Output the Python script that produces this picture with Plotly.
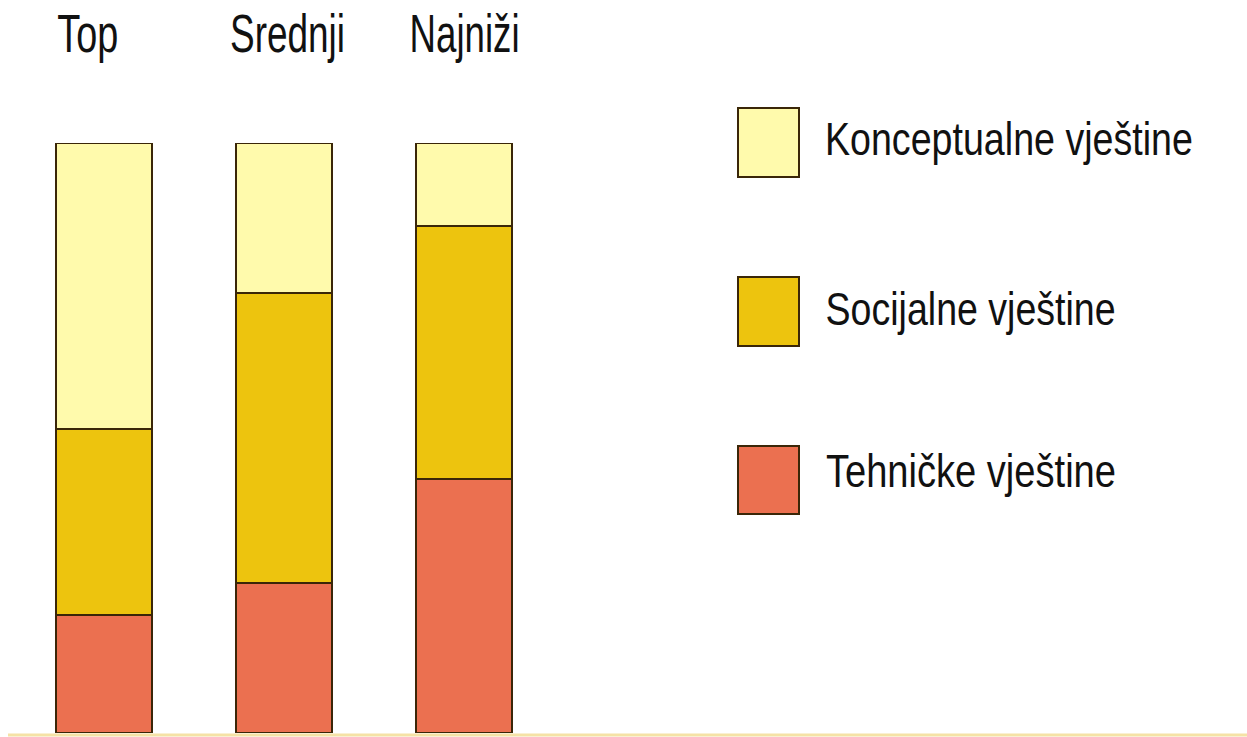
import json
import plotly.graph_objects as go

categories = ["Top", "Srednji", "Najniži"]
series_names = ["Tehničke vještine", "Socijalne vještine", "Konceptualne vještine"]
tehnicke = [20.0, 25.5, 43.0]
socijalne = [31.5, 49.0, 43.0]
konceptualne = [48.5, 25.5, 14.0]
series_values = [tehnicke, socijalne, konceptualne]
colors = ["#EB7050", "#EDC40E", "#FFFAAC"]

W, H = 1247, 737
FONT = "Liberation Sans, Arial, Helvetica, sans-serif"
EDGE = "#3a2608"

fig = go.Figure()
for name, vals, col in zip(series_names, series_values, colors):
    fig.add_trace(go.Bar(
        x=categories, y=vals, name=name,
        marker=dict(color=col, line=dict(color=EDGE, width=2)),
        width=0.533, showlegend=False, hoverinfo="skip"))


def py(p):
    return (H - p) / H


def px(p):
    return p / W


spacing = 180.0
x0 = 104.0
fig.update_layout(
    width=W, height=H, barmode="stack",
    margin=dict(l=0, r=0, t=0, b=0),
    paper_bgcolor="white", plot_bgcolor="white",
    xaxis=dict(domain=[0, 1], range=[-x0 / spacing, (W - x0) / spacing],
               showticklabels=False, showgrid=False, zeroline=False, showline=False),
    yaxis=dict(domain=[py(733), py(143)], range=[0, 100],
               showticklabels=False, showgrid=False, zeroline=False, showline=False),
    font=dict(family=FONT, color="#111111"),
)

# target rendered widths (the source lettering is condensed)
text_widths = {}

# category labels above the bars
label_shift = [-16.5, 3, 0]
label_width = [61, 115, 110]
for cat, sh, w in zip(categories, label_shift, label_width):
    fig.add_annotation(x=cat, xref="x", y=py(33.5), yref="paper", text=cat,
                       showarrow=False, xanchor="center", yanchor="middle",
                       xshift=sh, font=dict(size=53, family=FONT, color="#111111"))
    text_widths[cat] = w

# custom legend (squares + labels)
legend_rows = [(108, 177), (277, 346), (446, 514)]
legend_text_y = [138.5, 308.5, 470.5]
legend_text_cx = [1009, 970, 971]
legend_text_w = [368, 290, 290]
legend_order = [2, 1, 0]
for (top, bot), ty, cx, w, idx in zip(legend_rows, legend_text_y, legend_text_cx,
                                      legend_text_w, legend_order):
    fig.add_shape(type="rect", xref="paper", yref="paper",
                  x0=px(738), x1=px(799), y0=py(bot), y1=py(top),
                  fillcolor=colors[idx], line=dict(color=EDGE, width=2))
    fig.add_annotation(x=px(cx), y=py(ty), xref="paper", yref="paper",
                       text=series_names[idx], showarrow=False,
                       xanchor="center", yanchor="middle",
                       font=dict(size=47, family=FONT, color="#111111"))
    text_widths[series_names[idx]] = w

# pale strip along the bottom edge
fig.add_shape(type="line", xref="paper", yref="paper",
              x0=px(8), x1=1, y0=py(735), y1=py(735),
              line=dict(color="#F5E2A6", width=3))

post = """
document.body.style.margin = '0';
document.body.style.overflow = 'hidden';
var widths = %s;
var gd = document.getElementById('{plot_id}');
gd.querySelectorAll('text.annotation-text').forEach(function(t) {
  var w = widths[t.textContent];
  if (w) {
    t.setAttribute('textLength', w);
    t.setAttribute('lengthAdjust', 'spacingAndGlyphs');
  }
});
""" % json.dumps(text_widths, ensure_ascii=False)

fig.write_html("out.html", post_script=post, config={"displayModeBar": False})
